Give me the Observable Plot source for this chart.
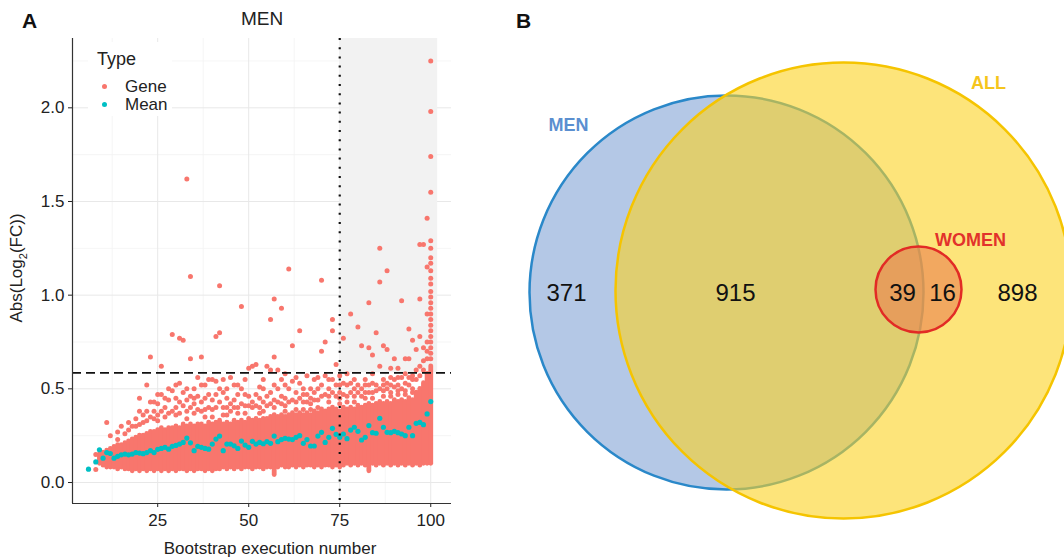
<!DOCTYPE html>
<html><head><meta charset="utf-8">
<script src="https://cdn.jsdelivr.net/npm/d3@7"></script>
<script src="https://cdn.jsdelivr.net/npm/@observablehq/plot@0.6"></script>
<style>
body{margin:0;background:#fff;font-family:"Liberation Sans",Arial,Helvetica,sans-serif;color:#111;}
#wrap{position:relative;width:1064px;height:560px;overflow:hidden;}
.abs{position:absolute;white-space:nowrap;}
#plotA{position:absolute;left:0;top:0;}
#plotB{position:absolute;left:500px;top:0;}
#plotA svg text{font-size:17px !important;}
</style></head><body><div id="wrap"><div id="plotA"></div><div id="plotB"></div></div>
<script>
// ---------------- Panel A data ----------------
const xTicks = [25, 50, 75, 100];
const xMinorTicks = [12.5, 37.5, 62.5, 87.5];
const yTicks = [0, 0.5, 1, 1.5, 2];
const yMinorTicks = [0.25, 0.75, 1.25, 1.75, 2.25];
const fcCutoff = 0.585;      // log2(1.5)
const runCutoff = 75;
const typeNames = ["Gene", "Mean"];

// mean |log2FC| per bootstrap execution number
const meanRuns = [6,8,9,10,11,12,13,14,15,16,17,18,19,20,21,22,23,24,25,26,27,28,29,30,31,32,33,34,35,36,37,38,39,40,41,42,43,44,45,46,47,48,49,50,51,52,53,54,55,56,57,58,59,60,61,62,63,64,65,66,67,68,69,70,71,72,73,74,75,76,77,78,79,80,81,82,83,84,85,86,87,88,89,90,91,92,93,94,95,96,97,98,99,100];
const meanValues = [0.071,0.11,0.175,0.13,0.16,0.155,0.13,0.14,0.148,0.152,0.148,0.152,0.16,0.157,0.154,0.16,0.17,0.16,0.177,0.182,0.188,0.178,0.193,0.198,0.205,0.214,0.237,0.212,0.17,0.193,0.188,0.182,0.178,0.205,0.232,0.248,0.17,0.205,0.205,0.196,0.182,0.221,0.2,0.188,0.22,0.205,0.214,0.207,0.218,0.209,0.248,0.218,0.229,0.236,0.232,0.229,0.241,0.25,0.209,0.229,0.195,0.195,0.248,0.268,0.214,0.241,0.289,0.257,0.241,0.259,0.234,0.28,0.295,0.273,0.227,0.241,0.304,0.266,0.263,0.343,0.295,0.268,0.266,0.273,0.266,0.259,0.25,0.295,0.25,0.316,0.321,0.309,0.366,0.432];

// dense body of gene values per execution number (estimated low / high edge)
const coreRuns = [9,10,11,12,13,14,15,16,17,18,19,20,21,22,23,24,25,26,27,28,29,30,31,32,33,34,35,36,37,38,39,40,41,42,43,44,45,46,47,48,49,50,51,52,53,54,55,56,57,58,59,60,61,62,63,64,65,66,67,68,69,70,71,72,73,74,75,76,77,78,79,80,81,82,83,84,85,86,87,88,89,90,91,92,93,94,95,96,97,98,99,100];
const coreLow = [0.1,0.09,0.08,0.08,0.08,0.07,0.08,0.07,0.07,0.06,0.07,0.06,0.07,0.06,0.07,0.06,0.07,0.06,0.07,0.06,0.07,0.06,0.07,0.07,0.06,0.07,0.06,0.07,0.07,0.06,0.07,0.06,0.07,0.07,0.08,0.07,0.08,0.07,0.08,0.07,0.08,0.08,0.07,0.08,0.08,0.07,0.08,0.08,0.04,0.08,0.09,0.08,0.08,0.09,0.08,0.09,0.08,0.09,0.09,0.08,0.09,0.08,0.09,0.09,0.08,0.09,0.08,0.09,0.1,0.09,0.1,0.09,0.1,0.09,0.06,0.1,0.09,0.1,0.09,0.1,0.09,0.1,0.09,0.1,0.09,0.1,0.09,0.1,0.09,0.1,0.1,0.1];
const coreHigh = [0.15,0.16,0.17,0.18,0.19,0.2,0.2,0.21,0.22,0.23,0.24,0.25,0.25,0.26,0.27,0.27,0.28,0.29,0.28,0.29,0.29,0.3,0.29,0.31,0.3,0.31,0.3,0.31,0.31,0.3,0.32,0.31,0.32,0.33,0.31,0.32,0.31,0.33,0.32,0.33,0.32,0.34,0.33,0.34,0.33,0.34,0.34,0.35,0.36,0.35,0.36,0.35,0.36,0.37,0.36,0.37,0.36,0.37,0.36,0.38,0.37,0.39,0.38,0.39,0.4,0.39,0.38,0.4,0.39,0.4,0.39,0.41,0.4,0.41,0.42,0.41,0.42,0.43,0.42,0.43,0.42,0.44,0.43,0.44,0.43,0.45,0.44,0.48,0.5,0.53,0.58,0.62];

// individually visible gene values above the dense body
const geneScatter = [
 [8,[0.15,0.07]],[11,[0.32]],[12,[0.25]],[14,[0.27,0.23]],[15,[0.3]],[16,[0.26]],[17,[0.32,0.28]],[18,[0.3]],
 [19,[0.34,0.3]],[20,[0.45,0.38,0.31]],[21,[0.36,0.32]],[22,[0.52,0.38,0.33]],[23,[0.67,0.43,0.35]],
 [24,[0.43,0.38,0.34]],[25,[0.47,0.42,0.36,0.33]],[26,[0.62,0.47,0.38]],[27,[0.45,0.4,0.35]],[28,[0.5,0.44,0.37]],
 [29,[0.79,0.49,0.38]],[30,[0.52,0.45,0.4,0.36]],[31,[0.77,0.53,0.43,0.37]],[32,[0.76,0.48,0.41]],
 [33,[1.62,0.5,0.44,0.38,0.34]],[34,[1.1,0.66,0.46,0.4]],[35,[0.5,0.45,0.42,0.37]],[36,[0.56,0.46,0.39]],
 [37,[0.67,0.52,0.43,0.38]],[38,[0.52,0.45,0.39,0.35]],[39,[0.55,0.47,0.4]],[40,[0.55,0.44,0.39,0.35]],
 [41,[0.78,0.54,0.47,0.4]],[42,[1.05,0.8,0.5,0.43]],[43,[0.55,0.48,0.4,0.36]],[44,[0.5,0.45,0.4,0.36]],
 [45,[0.56,0.42,0.38]],[46,[0.52,0.44,0.4]],[47,[0.52,0.47,0.4,0.37]],[48,[0.94,0.5,0.42]],[49,[0.55,0.47,0.41,0.37]],
 [50,[0.61,0.46,0.41]],[51,[0.62,0.43,0.4]],[52,[0.63,0.47,0.41]],[53,[0.51,0.45,0.4,0.37]],[54,[0.55,0.5,0.43,0.38]],
 [55,[0.62,0.46,0.41]],[56,[0.87,0.6,0.48,0.42]],[57,[0.98,0.67,0.52,0.44,0.4]],[58,[0.6,0.5,0.43]],
 [59,[0.93,0.55,0.46,0.42]],[60,[0.58,0.52,0.45,0.41,0.38]],[61,[1.14,0.5,0.43]],[62,[0.73,0.54,0.44]],
 [63,[0.56,0.48,0.43,0.39]],[64,[0.81,0.53,0.45]],[65,[0.5,0.47,0.43,0.39]],[66,[0.57,0.47,0.43]],[67,[0.5,0.45,0.42,0.39]],
 [68,[0.55,0.48,0.44]],[69,[0.56,0.5,0.44,0.4]],[70,[1.08,0.7,0.52,0.46]],[71,[0.75,0.57,0.47]],
 [72,[0.55,0.5,0.46,0.43]],[73,[0.87,0.81,0.55,0.48]],[74,[0.63,0.52,0.46]],[75,[0.57,0.52,0.48,0.45,0.42]],
 [76,[0.77,0.53,0.47]],[77,[0.58,0.52,0.46,0.43]],[78,[0.9,0.53,0.48]],[79,[0.55,0.5,0.46,0.43]],[80,[0.83,0.52,0.48]],
 [81,[0.73,0.5,0.46]],[82,[0.55,0.52,0.48,0.45]],[83,[0.96,0.72,0.52,0.48]],[84,[0.68,0.58,0.53,0.48,0.45]],
 [85,[0.8,0.52,0.49]],[86,[1.25,1.07,0.62,0.5]],[87,[0.73,0.55,0.52,0.49,0.46]],[88,[1.13,0.71,0.53,0.5]],
 [89,[0.61,0.56,0.52,0.48,0.46]],[90,[0.66,0.55,0.51]],[91,[0.61,0.56,0.52,0.49,0.47]],[92,[0.97,0.56,0.5]],
 [93,[0.66,0.58,0.53,0.49,0.47]],[94,[0.82,0.66,0.56,0.52]],[95,[0.76,0.57,0.55,0.5,0.48]],[96,[0.71,0.6,0.55]],
 [97,[1.27,0.98,0.78,0.62,0.57]],[98,[1.27,0.72,0.65,0.6]],[99,[1.41,1.15,0.9,0.75,0.7,0.66]],
 [100,[2.25,1.98,1.74,1.55,1.29,1.25,1.2,1.17,1.13,1.09,1.06,1.02,0.99,0.96,0.93,0.9,0.87,0.84,0.81,0.78,0.75,0.72,0.69,0.66]]
];

// ---------------- Panel B data ----------------
const setNames = ["MEN", "ALL", "WOMEN"];
const regionNames = ["MEN only", "MEN & ALL", "MEN & ALL & WOMEN", "ALL & WOMEN", "ALL only"];
const regionCounts = [371, 915, 39, 16, 898];

// ---------------- build ----------------
const FONT = '"Liberation Sans", Arial, Helvetica, sans-serif';
const GENE = "#F8766D", MEAN = "#00BFC4";
const xDom = [1.6, 105.7], yDom = [-0.112, 2.37];

const core = coreRuns.map((x, i) => ({x, lo: coreLow[i], hi: coreHigh[i]}));
const scatter = geneScatter.flatMap(([x, ys]) => ys.map(y => ({x, y})));
const means = meanRuns.map((x, i) => ({x, y: meanValues[i]}));

const plotA = Plot.plot({
  width: 470, height: 560,
  marginLeft: 72, marginRight: 19, marginTop: 38, marginBottom: 57,
  x: {domain: xDom}, y: {domain: yDom},
  style: {fontFamily: FONT, fontSize: "17px", color: "#222", background: "transparent"},
  marks: [
    Plot.gridX(xMinorTicks, {stroke: "#f2f2f2", strokeOpacity: 1, strokeWidth: 0.8}),
    Plot.gridY(yMinorTicks, {stroke: "#f2f2f2", strokeOpacity: 1, strokeWidth: 0.8}),
    Plot.gridX(xTicks, {stroke: "#e8e8e8", strokeOpacity: 1, strokeWidth: 1}),
    Plot.gridY(yTicks, {stroke: "#e8e8e8", strokeOpacity: 1, strokeWidth: 1}),
    Plot.rect([{}], {x1: runCutoff, x2: 101.9, y1: fcCutoff, y2: yDom[1], fill: "#f2f2f2"}),
    Plot.ruleX(core, {x: "x", y1: "lo", y2: "hi", stroke: GENE, strokeWidth: 4.8, strokeLinecap: "round"}),
    Plot.dot(scatter, {x: "x", y: "y", r: 2.5, fill: GENE}),
    Plot.dot(means, {x: "x", y: "y", r: 2.6, fill: MEAN}),
    Plot.ruleY([fcCutoff], {stroke: "#111", strokeWidth: 1.6, strokeDasharray: "9,5"}),
    Plot.ruleX([runCutoff], {stroke: "#111", strokeWidth: 2.2, strokeDasharray: "2,7.2"}),
    Plot.axisX({ticks: xTicks, tickSize: 4, tickPadding: 6, label: null, fontSize: 17}),
    Plot.axisY({ticks: yTicks, tickSize: 4, tickPadding: 4, label: null, fontSize: 17, tickFormat: d3.format(".1f")}),
    Plot.ruleX([xDom[0]], {stroke: "#333", strokeWidth: 1.2}),
    Plot.ruleY([yDom[0]], {stroke: "#333", strokeWidth: 1.2})
  ]
});
plotA.querySelectorAll("text").forEach(t => { t.style.fontSize = "17px"; });
document.getElementById("plotA").appendChild(plotA);

// Venn layout (page pixels) – counts come from the arrays above
const circles = [
  {name: setNames[0], x: 726, y: 292, r: 197, fill: "#b4c8e6", op: 1, stroke: "#2a88c9"},
  {name: setNames[1], x: 843, y: 290, r: 228, fill: "#fcd221", op: 0.6, stroke: "#f5c400"},
  {name: setNames[2], x: 918, y: 289, r: 43, fill: "#eb804f", op: 0.6, stroke: "#e22b25"}
];
const setLabelPos = [{x: 568, y: 125, c: "#5b8fd0"}, {x: 988, y: 83, c: "#f5c51c"}, {x: 970, y: 240, c: "#e2322b"}];
const countPos = [{x: 566, y: 293}, {x: 735, y: 293}, {x: 902, y: 293}, {x: 942, y: 293}, {x: 1017, y: 293}];
const setLabels = setNames.map((n, i) => ({n, ...setLabelPos[i]}));
const counts = regionCounts.map((v, i) => ({v, region: regionNames[i], ...countPos[i]}));

const plotB = Plot.plot({
  width: 564, height: 560, margin: 0,
  x: {domain: [500, 1064], axis: null}, y: {domain: [560, 0], axis: null},
  style: {fontFamily: FONT, background: "transparent", overflow: "hidden"},
  marks: [
    ...circles.map(c => Plot.dot([c], {x: "x", y: "y", r: c.r, fill: c.fill, fillOpacity: c.op, stroke: c.stroke, strokeWidth: 2.5})),
    Plot.text(setLabels, {x: "x", y: "y", text: "n", fill: "c", fontSize: 18, fontWeight: "bold"}),
    Plot.text(counts, {x: "x", y: "y", text: d => String(d.v), fill: "#111", fontSize: 24})
  ]
});
document.getElementById("plotB").appendChild(plotB);

// titles / labels / legend
const wrap = document.getElementById("wrap");
function addText(html, css) {
  const d = document.createElement("div");
  d.className = "abs"; d.innerHTML = html; Object.assign(d.style, css); wrap.appendChild(d);
  return d;
}
addText("A", {left: "22px", top: "9px", fontSize: "21px", fontWeight: "bold"});
addText("B", {left: "516px", top: "9px", fontSize: "21px", fontWeight: "bold"});
addText("MEN", {left: "262px", top: "19px", transform: "translate(-50%,-50%)", fontSize: "19px", color: "#222"});
addText("Bootstrap execution number", {left: "270px", top: "549px", transform: "translate(-50%,-50%)", fontSize: "17px", color: "#222"});
addText("Abs(Log<sub style='font-size:11px'>2</sub>(FC))", {left: "18px", top: "268px", transform: "translate(-50%,-50%) rotate(-90deg)", fontSize: "17px", color: "#222"});

const legend = addText("", {left: "88px", top: "42px", width: "84px", height: "74px", background: "#fff"});
legend.innerHTML =
  `<div style="position:absolute;left:9px;top:7px;font-size:18px;color:#222">Type</div>` +
  typeNames.map((t, i) =>
    `<div style="position:absolute;left:14px;top:${42 + i * 18}px;width:5px;height:5px;border-radius:50%;background:${i ? MEAN : GENE}"></div>` +
    `<div style="position:absolute;left:37px;top:${35 + i * 18}px;font-size:17px;color:#222">${t}</div>`
  ).join("");
</script>
</body></html>
